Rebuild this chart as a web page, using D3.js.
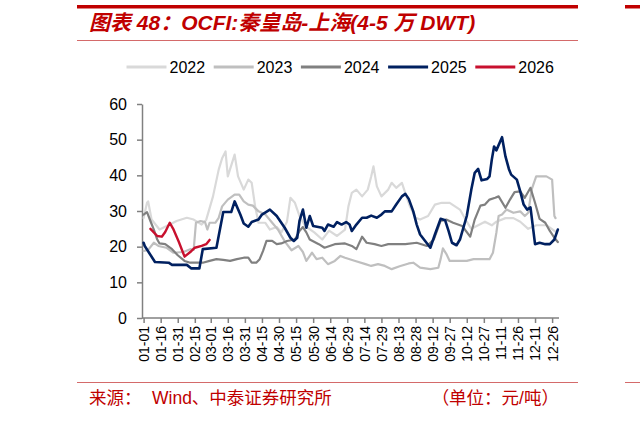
<!DOCTYPE html>
<html>
<head>
  <meta charset="utf-8">
  <title>OCFI 秦皇岛-上海</title>
  <style>
  body { margin: 0; background: #fff; }
  svg { display: block; font-family: "Liberation Sans", Arial, "Noto Sans CJK SC", sans-serif; }
  .axis path, .axis line { stroke: #808080; stroke-width: 1.5; }
  .axis text { fill: #000; }
  .series { fill: none; stroke-linejoin: round; stroke-linecap: round; }
  </style>
</head>
<body>
<script src="https://cdn.jsdelivr.net/npm/d3@7"></script>
<script>
// OCFI 秦皇岛-上海 (4-5万DWT), 元/吨; x = day of year (0 = 01-01)
var years = ["2022", "2023", "2024", "2025", "2026"];
var colors = ["#d9d9d9", "#bfbfbf", "#808080", "#002060", "#c8102e"];
var yTicks = [0, 10, 20, 30, 40, 50, 60];
var xTickLabels = ["01-01", "01-16", "01-31", "02-15", "03-01", "03-16", "03-31", "04-15", "04-30",
  "05-15", "05-30", "06-14", "06-29", "07-14", "07-29", "08-13", "08-28", "09-12", "09-27",
  "10-12", "10-27", "11-11", "11-26", "12-11", "12-26"];

var s2022 = [[0,28.0],[3,32.3],[4,32.7],[7,27.6],[14,24.8],[23,26.2],[29,27.2],[38,28.1],[44,27.6],[51,26.2],
  [55,27.5],[61,34.1],[66,41.6],[69,44.8],[72,46.7],[74,39.7],[80,45.8],[83,39.7],[88,36.0],[92,38.8],
  [95,37.9],[98,31.3],[101,26.7],[107,26.7],[111,24.8],[117,25.5],[121,24.0],[126,27.0],[129,33.7],[133,32.3],
  [137,28.6],[142,25.8],[150,24.0],[157,22.0],[163,24.5],[170,23.0],[177,24.8],[180,31.3],[183,35.1],[187,36.0],
  [192,34.1],[197,36.0],[200,39.7],[202,42.5],[205,36.9],[209,34.1],[215,36.0],[218,37.9],[222,36.5],[227,37.9],
  [230,35.0],[234,31.3],[239,28.1],[243,27.6],[250,28.6],[256,31.8],[262,32.3],[269,32.3],[278,30.4],[284,27.0],
  [288,25.0],[294,26.0],[300,27.0],[306,26.0],[310,27.0],[318,28.0],[325,28.0],[331,27.0],[338,25.0],[345,26.0],
  [354,26.0],[363,24.0]];

var s2023 = [[0,18.8],[4,19.1],[9,21.1],[13,20.2],[20,19.7],[26,18.3],[35,18.5],[41,19.3],[44,19.1],[46,26.7],
  [50,27.2],[54,26.9],[56,24.8],[58,26.7],[63,26.7],[66,28.1],[69,31.3],[74,33.2],[80,34.6],[84,34.6],
  [88,32.7],[92,31.8],[96,31.5],[101,29.9],[107,29.0],[113,26.7],[118,24.8],[124,21.5],[130,19.0],[136,20.2],
  [140,18.5],[143,16.0],[148,18.3],[152,16.5],[157,16.9],[162,15.1],[168,16.0],[173,17.4],[177,16.9],[186,16.0],
  [195,15.1],[200,14.6],[206,15.1],[212,14.6],[218,13.7],[225,14.5],[233,15.3],[237,15.5],[243,14.1],[252,13.7],
  [259,14.1],[261,16.5],[263,19.5],[266,18.0],[269,16.0],[284,16.0],[290,16.5],[304,16.5],[307,18.3],[310,23.9],
  [312,28.6],[315,29.0],[319,30.4],[325,29.5],[331,29.9],[335,28.6],[338,29.5],[341,36.0],[345,39.7],[354,39.7],
  [359,38.8],[361,28.6],[362,28.0]];

var s2024 = [[0,29.0],[3,29.7],[6,27.2],[9,24.8],[12,22.0],[14,20.9],[19,20.7],[25,19.3],[30,17.6],[36,16.0],
  [41,15.5],[52,15.5],[58,16.0],[64,16.5],[70,16.3],[76,16.0],[82,16.5],[88,16.9],[92,16.9],[95,15.5],
  [99,15.5],[102,16.5],[105,18.8],[108,21.6],[113,21.6],[117,20.7],[121,20.9],[126,21.6],[133,22.0],[137,24.4],
  [140,25.5],[143,24.0],[146,22.0],[154,20.7],[159,19.7],[168,20.7],[177,20.9],[183,20.2],[187,19.3],[192,22.8],
  [196,21.1],[203,20.7],[209,20.2],[215,20.7],[224,20.7],[230,20.7],[240,21.1],[249,20.2],[255,22.0],[261,27.2],
  [266,27.6],[272,26.7],[280,25.8],[287,22.8],[291,27.6],[296,31.5],[300,31.8],[304,33.2],[309,33.7],[312,34.1],
  [318,30.9],[322,33.2],[326,35.3],[331,35.5],[335,33.7],[340,36.5],[344,32.3],[348,27.8],[353,26.7],[357,24.4],
  [361,22.5],[364,21.3]];

var s2025 = [[0,21.1],[1,20.2],[10,15.7],[22,15.5],[25,14.9],[38,14.9],[42,13.9],[49,13.9],[52,19.3],[64,19.7],
  [70,29.7],[77,29.7],[80,32.7],[85,29.0],[88,26.5],[92,25.6],[95,26.9],[101,27.6],[104,29.0],[111,30.4],
  [117,28.6],[124,25.3],[129,22.5],[132,21.6],[135,22.5],[137,27.2],[140,30.4],[143,25.3],[146,28.6],[149,25.8],
  [157,25.3],[159,24.4],[162,26.2],[167,25.6],[170,26.9],[174,26.2],[178,26.9],[181,26.2],[183,24.4],[187,26.2],
  [192,28.1],[196,28.1],[200,28.7],[205,28.1],[209,29.0],[212,29.9],[218,29.9],[222,31.8],[227,34.1],[230,34.8],
  [233,33.4],[237,29.9],[240,26.2],[243,23.4],[252,19.7],[256,23.4],[261,27.8],[265,27.4],[268,24.4],[271,21.1],
  [275,20.4],[278,22.0],[284,28.6],[288,36.0],[291,40.7],[294,41.8],[297,38.6],[302,39.0],[304,39.7],[306,44.4],
  [308,48.1],[310,47.0],[315,50.7],[318,45.3],[321,41.8],[323,40.2],[328,38.8],[331,35.5],[334,31.8],[337,30.4],
  [340,31.0],[344,20.7],[348,21.1],[353,20.7],[357,20.7],[361,22.0],[364,24.8]];

var s2026 = [[6,25.0],[12,23.0],[16,22.8],[19,24.1],[23,26.7],[26,25.0],[31,21.3],[36,17.2],[41,18.5],[45,19.7],
  [51,20.2],[55,20.7],[58,21.9]];

var seriesList = [s2022, s2023, s2024, s2025, s2026];
var widths = [2.2, 2.2, 2.2, 2.6, 2.4];

var width = 640, height = 422;
var monthStart = [0, 31, 59, 90, 120, 151, 181, 212, 243, 273, 304, 334];
function dayOf(md) {
  var p = md.split("-");
  return monthStart[+p[0] - 1] + (+p[1]) - 1;
}

var svg = d3.select("body").append("svg")
    .attr("width", width)
    .attr("height", height);

// header & footer rules
svg.append("rect").attr("x", 77).attr("y", 5).attr("width", 501).attr("height", 3.5).attr("fill", "#c00000");
svg.append("rect").attr("x", 625).attr("y", 5).attr("width", 15).attr("height", 3.5).attr("fill", "#c00000");
svg.append("line").attr("x1", 77).attr("x2", 578).attr("y1", 40.5).attr("y2", 40.5)
    .attr("stroke", "#d46a6a").attr("stroke-width", 1);
svg.append("line").attr("x1", 77).attr("x2", 578).attr("y1", 382.5).attr("y2", 382.5)
    .attr("stroke", "#d46a6a").attr("stroke-width", 1);
svg.append("line").attr("x1", 625).attr("x2", 640).attr("y1", 382.5).attr("y2", 382.5)
    .attr("stroke", "#d46a6a").attr("stroke-width", 1);

svg.append("text")
    .attr("x", 89).attr("y", 30)
    .attr("fill", "#c00000")
    .style("font-size", "21px")
    .style("font-weight", "bold")
    .style("font-style", "italic")
    .text("图表 48：OCFI:秦皇岛-上海(4-5 万 DWT)");

svg.append("text")
    .attr("x", 89).attr("y", 404)
    .attr("fill", "#c00000")
    .style("font-size", "17.5px")
    .text("来源：");
svg.append("text")
    .attr("x", 152).attr("y", 404)
    .attr("fill", "#c00000")
    .style("font-size", "17.5px")
    .text("Wind、中泰证券研究所");
svg.append("text")
    .attr("x", 559).attr("y", 404)
    .attr("fill", "#c00000")
    .attr("text-anchor", "end")
    .style("font-size", "17.5px")
    .text("（单位：元/吨）");

// scales
var x = d3.scaleLinear().domain([0, 364]).range([143.6, 557.8]);
var y = d3.scaleLinear().domain([0, 60]).range([318, 104]);

// axes
var yAxis = svg.append("g")
    .attr("class", "axis")
    .attr("transform", "translate(142,0)")
    .call(d3.axisLeft(y).tickValues(yTicks).tickSize(5).tickSizeOuter(0).tickPadding(10));
yAxis.selectAll("text").style("font-size", "16px").attr("fill", "#000");

var xAxis = svg.append("g")
    .attr("class", "axis")
    .attr("transform", "translate(0,318)")
    .call(d3.axisBottom(x)
      .tickValues(xTickLabels.map(dayOf))
      .tickFormat(function(d, i) { return xTickLabels[i]; })
      .tickSize(5).tickSizeOuter(0));
xAxis.select(".domain").attr("d", "M142,0H559");
xAxis.selectAll("text")
    .attr("transform", "rotate(-90)")
    .attr("x", -8).attr("y", 0).attr("dy", "0.35em")
    .style("text-anchor", "end")
    .style("font-size", "14px");

// lines
var line = d3.line()
    .x(function(d) { return x(d[0]); })
    .y(function(d) { return y(d[1]); });

svg.append("g").selectAll("path")
    .data(seriesList)
  .enter().append("path")
    .attr("class", "series")
    .attr("stroke", function(d, i) { return colors[i]; })
    .attr("stroke-width", function(d, i) { return widths[i]; })
    .attr("d", line);

// legend
var legend = svg.append("g").selectAll("g")
    .data(years)
  .enter().append("g")
    .attr("transform", function(d, i) { return "translate(" + (126.5 + i * 87.2) + ",67)"; });
legend.append("line")
    .attr("x1", 0).attr("x2", 40)
    .attr("stroke", function(d, i) { return colors[i]; })
    .attr("stroke-width", 3);
legend.append("text")
    .attr("x", 43).attr("dy", "0.35em")
    .style("font-size", "16px")
    .text(function(d) { return d; });
</script>
</body>
</html>
